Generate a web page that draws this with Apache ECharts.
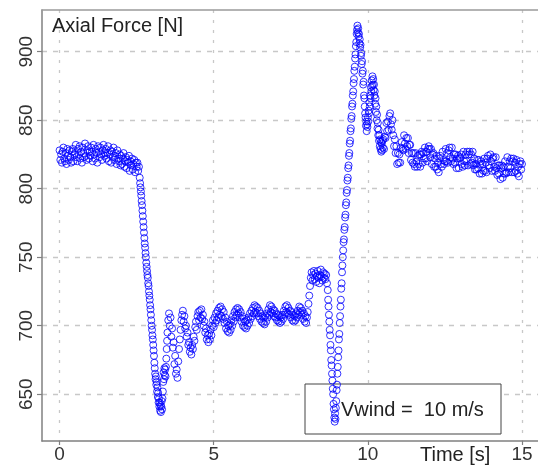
<!DOCTYPE html>
<html>
<head>
<meta charset="utf-8">
<script src="https://cdn.jsdelivr.net/npm/echarts@6/dist/echarts.min.js"></script>
<style>
html,body{margin:0;padding:0;background:#fff;}
#chart{width:538px;height:468px;}
</style>
</head>
<body>
<div id="chart"></div>
<script>
// ---- data (axial force [N] vs time [s]) ----
// each segment: start time, sample step, values
const segStart = [0, 2.6, 3.5, 8.7, 10.5];
const segStep  = [0.025, 0.0125, 0.025, 0.0125, 0.025];

// 0.000 .. 2.575 s
const forceSeg1 = [
828,821,825,819,827,830,822,820,826,818,829,824,821,828,823,819,827,829,820,825,
826,832,823,820,829,825,831,822,827,819,830,826,823,833,824,821,828,831,822,827,
824,830,827,820,832,825,822,829,826,819,831,827,823,830,825,821,828,832,824,826,
829,822,826,831,820,825,828,819,827,823,830,821,824,826,818,828,822,820,825,817,
824,818,822,826,816,820,823,815,821,819,824,813,820,817,822,814,818,821,812,819,
816,819,813,816
];
// 2.6000 .. 3.4875 s (first drop)
const forceSeg2 = [
808,804,801,798,795,791,788,784,780,776,772,768,764,760,757,753,
750,746,743,740,737,735,731,729,725,722,719,715,712,708,704,700,
697,693,690,686,682,678,673,669,665,661,663,657,659,652,655,648,651,644,
647,641,644,638,642,637,641,645,639,647,652,659,666,661,669,664,668,663,670,676,683,689
];
// 3.500 .. 8.675 s (recovery oscillation and step)
const forceSeg3 = [
695,704,709,700,706,692,698,684,688,672,678,665,668,662,674,683,690,697,704,708,
711,703,707,698,700,692,695,686,688,681,684,679,686,683,692,689,699,703,697,707,
710,704,711,706,712,705,708,700,703,695,698,690,693,688,694,690,697,693,700,704,
699,706,702,709,704,711,706,713,708,714,707,712,705,710,702,706,698,703,696,700,
695,701,697,704,700,707,703,710,706,712,708,713,709,712,706,710,703,707,700,705,
699,703,698,704,700,706,702,709,705,711,707,713,709,715,710,714,709,713,707,711,
705,709,703,707,702,706,701,707,703,709,706,712,708,715,710,714,709,712,707,711,
706,709,704,708,703,707,702,706,703,708,705,711,708,714,710,715,709,713,708,711,
706,710,704,708,703,707,704,709,706,711,708,714,710,713,708,711,705,709,703,707,
702,706,710,716,722,729,735,739,733,737,740,734,738,732,736,740,735,731,737,741,
736,733,739,735,738,734,737,731
];
// 8.7000 .. 10.4875 s (second drop, overshoot peak)
const forceSeg4 = [
726,719,714,708,703,697,693,686,682,675,671,665,660,654,650,643,639,633,630,636,632,
640,645,653,657,665,670,677,682,690,694,702,707,714,719,727,731,739,744,750,755,
761,763,770,772,779,781,788,790,797,799,806,808,815,817,824,826,833,835,842,844,
851,853,860,862,868,871,877,880,886,889,895,898,904,907,913,916,
919,914,917,911,913,906,909,903,905,897,899,891,893,884,886,876,878,868,866,860,
855,852,846,849,842,847,845,852,
849,857,855,863,860,868,866,874,871,879,875,882,876,880,872,876,868,871,862,866,
856,860,850,854,844,848,839,843,835,839,831,836,829,834,827,833,828,835,830
];
// 10.500 .. 15.000 s (decaying oscillation)
const forceSeg5 = [
836,829,838,837,848,842,849,843,853,855,847,843,850,839,831,836,826,831,818,826,
819,825,819,830,834,829,828,839,833,829,837,831,837,826,832,832,821,826,819,826,
818,816,826,820,816,824,818,825,816,825,827,819,826,822,830,822,827,820,829,831,
829,823,829,818,825,826,816,822,816,824,814,819,812,822,824,818,816,827,821,818,
820,829,820,826,819,828,830,823,820,830,822,818,825,819,825,815,822,824,815,822,
823,825,818,816,827,820,817,825,820,827,817,825,827,818,825,819,827,817,822,814,
818,814,821,815,821,811,818,820,811,818,813,822,813,819,812,822,824,817,815,825,
820,813,822,823,816,813,823,815,810,817,811,817,807,815,817,808,816,811,820,811,
812,823,816,812,820,815,822,812,820,822,812,819,813,821,811,816,809,818,820,814,
818
];

const xTicks = [0, 5, 10, 15];
const yTicks = [650, 700, 750, 800, 850, 900];
const xLabel = 'Time [s]';
const yLabel = 'Axial Force [N]';
const legendText = 'Vwind =  10 m/s';

// ---- build scatter data ----
const segments = [forceSeg1, forceSeg2, forceSeg3, forceSeg4, forceSeg5];
const points = [];
segments.forEach((vals, s) => {
  vals.forEach((v, i) => {
    const t = Math.round((segStart[s] + i * segStep[s]) * 10000) / 10000;
    points.push([t, v]);
  });
});

const FONT = "'Liberation Sans', Arial, sans-serif";
const chart = echarts.init(document.getElementById('chart'), null, {renderer: 'canvas'});
chart.setOption({
  animation: false,
  backgroundColor: '#ffffff',
  grid: {left: 42, top: 10, right: 0, bottom: 27, containLabel: false, outerBoundsMode: 'none'},
  xAxis: [{
    type: 'value', min: -0.57, max: 15.52,
    axisLine: {show: true, onZero: false, lineStyle: {color: '#808080', width: 1.5}},
    axisTick: {show: true, customValues: xTicks, length: 4, lineStyle: {color: '#808080', width: 1.2}},
    axisLabel: {customValues: xTicks, margin: 4, fontSize: 19, color: '#333', fontFamily: FONT},
    splitLine: {show: true, lineStyle: {color: '#c8c8c8', width: 1.3, type: [3, 7]}}
  }, {
    type: 'value', position: 'top', min: -0.57, max: 15.52,
    axisLine: {show: true, onZero: false, lineStyle: {color: '#9a9a9a', width: 1.5}},
    axisTick: {show: false}, axisLabel: {show: false}, splitLine: {show: false}
  }],
  yAxis: {
    type: 'value', min: 615.9, max: 930.4,
    axisLine: {show: true, onZero: false, lineStyle: {color: '#808080', width: 1.5}},
    axisTick: {show: true, customValues: yTicks, length: 5, lineStyle: {color: '#808080', width: 1.2}},
    axisLabel: {customValues: yTicks, rotate: 90, margin: 6, fontSize: 19, color: '#333', fontFamily: FONT},
    splitLine: {show: true, lineStyle: {color: '#c8c8c8', width: 1.3, type: [5, 6]}}
  },
  graphic: [
    {type: 'rect', z: 1, shape: {x: 305, y: 384, width: 196, height: 50},
     style: {fill: '#ffffff', stroke: '#444', lineWidth: 1}},
    {type: 'text', z: 1, style: {x: 341, y: 410, text: legendText, font: '20px ' + FONT, fill: '#222', textVerticalAlign: 'middle'}},
    {type: 'text', z: 1, style: {x: 52, y: 26, text: yLabel, font: '20px ' + FONT, fill: '#222', textVerticalAlign: 'middle'}},
    {type: 'text', z: 1, style: {x: 420, y: 455, text: xLabel, font: '20px ' + FONT, fill: '#222', textVerticalAlign: 'middle'}}
  ],
  series: [{
    type: 'scatter',
    data: points,
    symbol: 'circle',
    symbolSize: 7,
    z: 3,
    itemStyle: {color: 'rgba(0,0,0,0)', borderColor: '#0000ff', borderWidth: 1},
    silent: true
  }]
});
</script>
</body>
</html>
